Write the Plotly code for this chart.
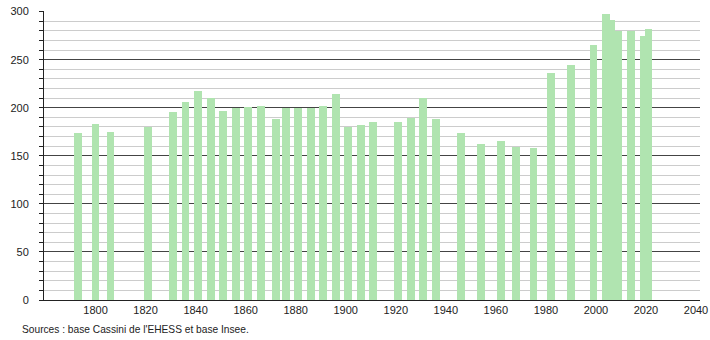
import plotly.graph_objects as go

years = [1793, 1800, 1806, 1821, 1831, 1836, 1841, 1846, 1851, 1856, 1861, 1866,
         1872, 1876, 1881, 1886, 1891, 1896, 1901, 1906, 1911, 1921, 1926, 1931,
         1936, 1946, 1954, 1962, 1968, 1975, 1982, 1990, 1999, 2004, 2006, 2009,
         2014, 2019, 2021]
population = [174, 183, 175, 180, 196, 206, 217, 210, 197, 200, 201, 202,
              188, 200, 200, 200, 202, 214, 180, 182, 185, 185, 189, 210,
              188, 174, 162, 165, 159, 158, 236, 244, 265, 298, 291, 280,
              280, 275, 282]
x_ticks = [1800, 1820, 1840, 1860, 1880, 1900, 1920, 1940, 1960, 1980, 2000, 2020, 2040]
source_text = "Sources : base Cassini de l'EHESS et base Insee."

fig = go.Figure()
fig.add_trace(go.Bar(
    x=years, y=population, width=3.1,
    marker=dict(color="#b0e4b0", line=dict(width=0)),
    hoverinfo="x+y",
))

fig.update_layout(
    template="none",
    width=710, height=340,
    margin=dict(l=44, r=10, t=11, b=40, pad=0),
    paper_bgcolor="white", plot_bgcolor="white",
    showlegend=False,
    font=dict(family="Liberation Sans, Arial, sans-serif", size=11, color="#222"),
    bargap=0,
    xaxis=dict(
        automargin=False,
        range=[1779.4, 2041.6],
        tickmode="array", tickvals=x_ticks,
        showgrid=False, zeroline=False,
        showline=True, linecolor="#222", linewidth=1,
        ticks="", tickfont=dict(size=11),
    ),
    yaxis=dict(
        automargin=False,
        range=[0, 300.6],
        dtick=50, tick0=0,
        showgrid=True, gridcolor="#444", gridwidth=1,
        zeroline=False,
        showline=True, linecolor="#222", linewidth=1,
        ticks="outside", ticklen=4, tickcolor="#222",
        ticklabelstandoff=8,
        tickfont=dict(size=11),
        minor=dict(dtick=10, showgrid=True, gridcolor="#cccccc", gridwidth=1,
                   ticks="outside", ticklen=4, tickcolor="#222"),
    ),
    annotations=[dict(
        text=source_text, xref="paper", yref="paper",
        x=0, y=0, xanchor="left", yanchor="middle",
        xshift=-24, yshift=-29,
        showarrow=False, font=dict(size=10.2, color="#222"),
    )],
)

fig.write_html("out.html")
